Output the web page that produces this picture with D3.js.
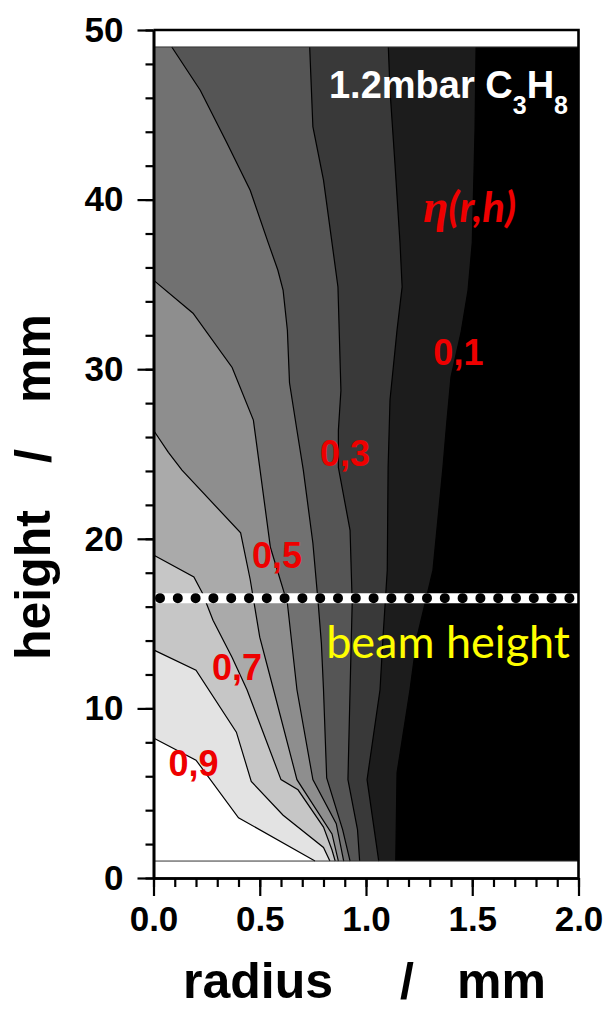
<!DOCTYPE html>
<html>
<head>
<meta charset="utf-8">
<script src="https://cdn.jsdelivr.net/npm/d3@7"></script>
<style>
  body { margin: 0; background: #fff; }
  svg { display: block; }
  .axis text { font-family: "Liberation Sans", Arial, sans-serif; font-weight: bold; font-size: 35px; fill: #000; }
  .axis path, .axis line { stroke: #000; }
</style>
</head>
<body>
<svg id="chart" width="607" height="1010"></svg>
<script>
// axis ticks
const radiusTicks = [0, 0.5, 1.0, 1.5, 2.0]
const heightTicks = [0, 10, 20, 30, 40, 50]
const radiusDomain = [0, 2]
const heightDomain = [0, 50]
// computed region (h from 1 to 49 mm)
const dataH = [1, 49]
const beamHeight = 16.5

// iso-lines of eta(r,h) as [radius, height]
const levels = [0.9, 0.8, 0.7, 0.6, 0.5, 0.4, 0.3, 0.2, 0.1]
const eta09 = [[0, 8.25], [0.2, 6.95], [0.4, 3.55], [0.76, 1]]
const eta08 = [[0, 13.45], [0.2, 12.25], [0.39, 8.6], [0.46, 5.7], [0.61, 3.7], [0.8, 1.8], [0.83, 1]]
const eta07 = [[0, 19.05], [0.19, 17.75], [0.23, 16.8], [0.28, 15.2], [0.37, 13.0], [0.44, 11.1], [0.6, 5.8], [0.68, 5.2], [0.8, 3.0], [0.84, 1.65], [0.855, 1]]
const eta06 = [[0, 26.4], [0.07, 25.1], [0.134, 24.05], [0.41, 20.35], [0.455, 17.6], [0.5, 14.2], [0.565, 11.1], [0.675, 5.8], [0.84, 2.6], [0.87, 1]]
const eta05 = [[0, 35.25], [0.186, 33.3], [0.37, 30.1], [0.47, 27.0], [0.5, 24.2], [0.55, 19.5], [0.63, 16.2], [0.675, 11.1], [0.75, 5.8], [0.86, 3.2], [0.895, 1]]
const eta04 = [[0.086, 49], [0.22, 46.45], [0.345, 43.35], [0.455, 40.55], [0.54, 37.45], [0.585, 35.85], [0.61, 34.65], [0.63, 32.3], [0.64, 29.2], [0.675, 26.4], [0.705, 24.05], [0.75, 19.75], [0.775, 16.2], [0.79, 13.85], [0.8, 11.1], [0.815, 5.9], [0.89, 2.85], [0.925, 1]]
const eta03 = [[0.735, 49], [0.75, 44.3], [0.8, 41.15], [0.84, 37.45], [0.868, 34.85], [0.882, 28.75], [0.87, 26.4], [0.87, 24.2], [0.925, 20.5], [0.935, 16.2], [0.925, 11.1], [0.915, 5.8], [0.96, 2.85], [0.97, 1]]
const eta02 = [[1.105, 49], [1.113, 46.45], [1.136, 42.15], [1.16, 37.45], [1.17, 34.85], [1.146, 32.3], [1.113, 28.2], [1.104, 24.2], [1.1, 18.15], [1.08, 14.2], [1.066, 11.1], [1.005, 5.8], [1.06, 1]]
const eta01 = [[1.518, 49], [1.513, 44.1], [1.5, 37.45], [1.48, 34.65], [1.447, 32.15], [1.4, 29.55], [1.38, 26.85], [1.362, 24.2], [1.315, 18.15], [1.24, 14.2], [1.207, 11.1], [1.146, 6.2], [1.14, 1]]
const contourLines = [eta09, eta08, eta07, eta06, eta05, eta04, eta03, eta02, eta01]

// level labels and where they sit [radius, height]
const levelLabels = ['0,9', '0,7', '0,5', '0,3', '0,1']
const labelAnchors = [[0.07, 6.0], [0.275, 11.7], [0.464, 18.3], [0.784, 24.3], [1.317, 30.25]]

const PLOT_L = 153.5, PLOT_R = 578.5, PLOT_T = 30, PLOT_B = 878

const svg = d3.select('#chart')
const x = d3.scaleLinear().domain(radiusDomain).range([PLOT_L, PLOT_R])
const y = d3.scaleLinear().domain(heightDomain).range([PLOT_B, PLOT_T])
// band colour: grey level of the band's lower bound
const gray = d3.scaleLinear().domain([0, 0.9]).range(['#000', '#fff']).clamp(true)
const line = d3.line().x(d => x(d[0])).y(d => y(d[1]))

plotContour(svg.append('g').attr('class', 'contour'))
plotAxes(svg)
plotNotes(svg)

function plotContour(g) {
	g.append('rect')
	 .attr('x', x(radiusDomain[0])).attr('y', y(dataH[1]))
	 .attr('width', x(radiusDomain[1]) - x(radiusDomain[0]))
	 .attr('height', y(dataH[0]) - y(dataH[1]))
	 .attr('fill', '#fff')

	// fill everything on the low side of each iso-line, highest level first
	const bands = levels.map((lv, i) => {
		const pts = contourLines[i]
		const poly = [...pts, [radiusDomain[1], dataH[0]], [radiusDomain[1], dataH[1]]]
		if (pts[0][0] === radiusDomain[0]) poly.push([radiusDomain[0], dataH[1]])
		return { lv, poly }
	})
	g.selectAll('path.band').data(bands).join('path')
	 .attr('class', 'band')
	 .attr('d', d => line(d.poly) + 'Z')
	 .attr('fill', d => gray(d.lv - 0.1))

	g.selectAll('path.iso').data(contourLines).join('path')
	 .attr('class', 'iso')
	 .attr('d', line)
	 .attr('fill', 'none')
	 .attr('stroke', '#000')
	 .attr('stroke-width', 1.2)

	g.append('rect')
	 .attr('x', x(radiusDomain[0])).attr('y', y(dataH[1]))
	 .attr('width', x(radiusDomain[1]) - x(radiusDomain[0]))
	 .attr('height', y(dataH[0]) - y(dataH[1]))
	 .attr('fill', 'none').attr('stroke', '#333').attr('stroke-width', 1)

	// beam height marker
	const beam = [[radiusDomain[0], beamHeight], [radiusDomain[1], beamHeight]]
	g.append('path').attr('d', line(beam))
	 .attr('stroke', '#fff').attr('stroke-width', 10).attr('fill', 'none')
	g.append('path').attr('d', line(beam))
	 .attr('stroke', '#000').attr('stroke-width', 10).attr('fill', 'none')
	 .attr('stroke-linecap', 'round')
	 .attr('stroke-dasharray', '0 17.8')
	 .attr('stroke-dashoffset', -6.5)
}

function plotAxes(svg) {
	const gy = svg.append('g').attr('class', 'axis')
	 .attr('transform', `translate(${PLOT_L},0)`)
	gy.call(d3.axisLeft(y).tickValues(d3.range(0, 51, 2)).tickSize(8).tickSizeOuter(0).tickFormat(''))
	gy.append('g').call(d3.axisLeft(y).tickValues(heightTicks).tickSize(16).tickSizeOuter(0).tickPadding(14))
	gy.selectAll('line').attr('stroke-width', 2.2)
	gy.selectAll('path').attr('stroke-width', 2.6)

	const gx = svg.append('g').attr('class', 'axis')
	 .attr('transform', `translate(0,${PLOT_B})`)
	gx.call(d3.axisBottom(x).tickValues(d3.range(0, 2.01, 0.1)).tickSize(9).tickSizeOuter(0).tickFormat(''))
	gx.append('g').call(d3.axisBottom(x).tickValues(radiusTicks).tickSize(18).tickSizeOuter(0).tickPadding(10).tickFormat(d3.format('.1f')))
	gx.selectAll('line').attr('stroke-width', 2.2)
	gx.selectAll('path').attr('stroke-width', 2.6)

	// frame: top and right
	svg.append('path')
	 .attr('d', `M${PLOT_L},${PLOT_T}H${PLOT_R}V${PLOT_B}`)
	 .attr('fill', 'none').attr('stroke', '#000').attr('stroke-width', 2.6)

	const title = { 'font-family': '"Liberation Sans", Arial, sans-serif', 'font-weight': 'bold', 'font-size': '50px' }
	const xt = svg.append('g').attr('class', 'x-title')
	;[['radius', 183], ['/', 400], ['mm', 457]].forEach(([t, px]) => {
		const el = xt.append('text').text(t).attr('x', px).attr('y', 998)
		Object.entries(title).forEach(([k, v]) => el.attr(k, v))
	})
	const yt = svg.append('g').attr('class', 'y-title')
	;[['height', 660], ['/', 463], ['mm', 403]].forEach(([t, py]) => {
		const el = yt.append('text').text(t).attr('transform', `translate(50,${py}) rotate(-90)`)
		Object.entries(title).forEach(([k, v]) => el.attr(k, v))
	})
}

function plotNotes(svg) {
	const g = svg.append('g').attr('class', 'notes')
	g.selectAll('text.lvl').data(levelLabels).join('text')
	 .attr('class', 'lvl')
	 .attr('x', (d, i) => x(labelAnchors[i][0]))
	 .attr('y', (d, i) => y(labelAnchors[i][1]))
	 .attr('fill', '#ee0000')
	 .style('font-family', '"Liberation Sans", Arial, sans-serif')
	 .style('font-weight', 'bold')
	 .style('font-size', '36px')
	 .text(d => d)

	const gas = g.append('text')
	 .attr('x', 568).attr('y', 98).attr('text-anchor', 'end')
	 .attr('fill', '#fff')
	 .style('font-family', '"Liberation Sans", Arial, sans-serif')
	 .style('font-weight', 'bold')
	 .style('font-size', '38px')
	gas.append('tspan').text('1.2mbar C')
	gas.append('tspan').text('3').attr('dy', 16).style('font-size', '25px')
	gas.append('tspan').text('H').attr('dy', -16)
	gas.append('tspan').text('8').attr('dy', 16).style('font-size', '25px')

	const eta = g.append('text')
	 .attr('x', 423).attr('y', 222)
	 .attr('fill', '#ee0000')
	 .style('font-weight', 'bold').style('font-style', 'italic')
	 .style('font-size', '42px')
	eta.append('tspan').text('η').style('font-family', '"Liberation Serif", serif').style('font-size', '46px')
	eta.append('tspan').text('(r,h)').style('font-family', 'Lato, sans-serif')

	g.append('text')
	 .attr('x', 570).attr('y', 658).attr('text-anchor', 'end')
	 .attr('fill', '#ffff00')
	 .style('font-family', 'Lato, sans-serif')
	 .style('font-size', '45px')
	 .text('beam height')
}
</script>
</body>
</html>
